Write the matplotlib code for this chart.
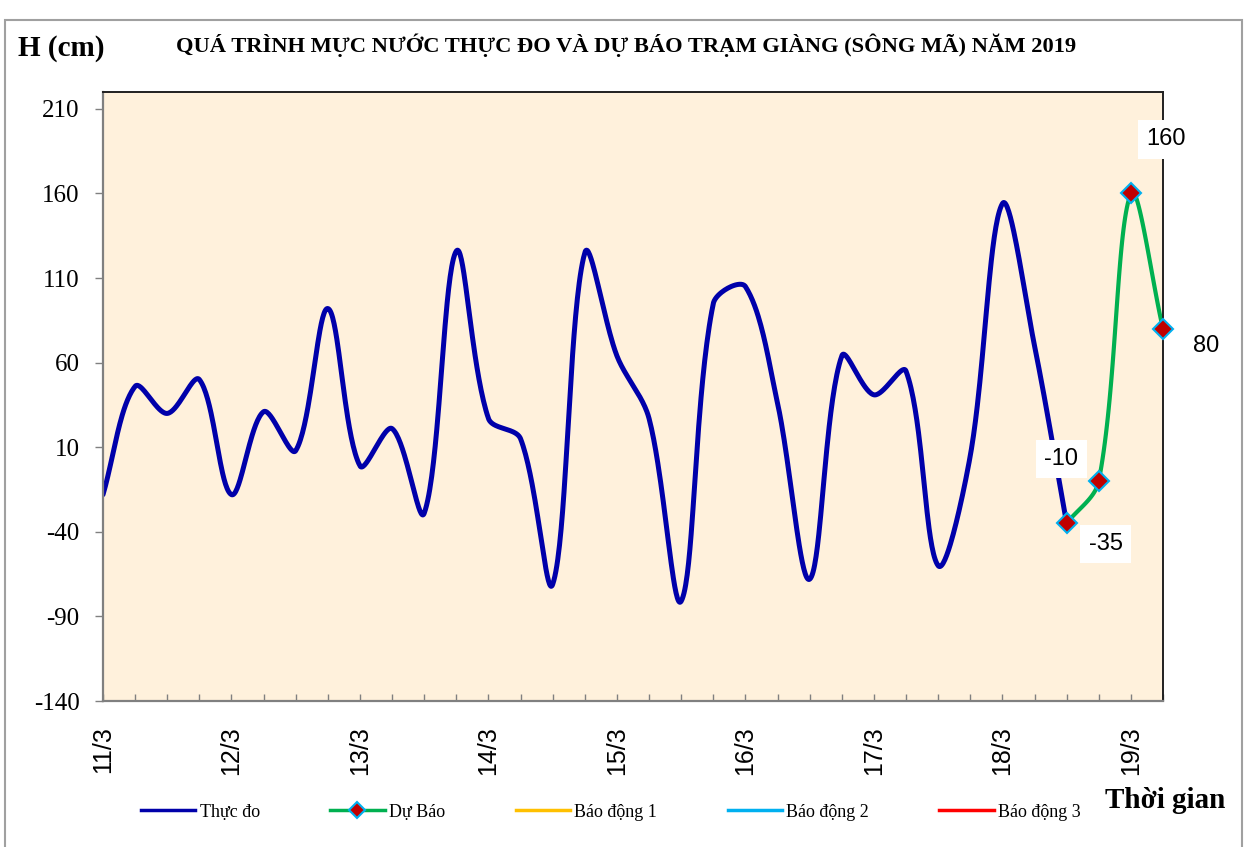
import numpy as np
import matplotlib
matplotlib.use('Agg')
import matplotlib.pyplot as plt
from matplotlib.lines import Line2D
from matplotlib.patches import Rectangle

# water level data, 6-hour steps starting 11/3 00h
days = ['11/3', '12/3', '13/3', '14/3', '15/3', '16/3', '17/3', '18/3', '19/3']
observed = [-18, 46, 30, 50, -18, 31, 8, 92, -1, 21, -29, 126, 27, 15, -71, 125,
            64, 27, -81, 95, 105, 36, -68, 64, 41, 55, -60, 5, 154, 70, -35]
forecast = [-35, -10, 160, 80]
forecast_start = 30
n_steps = 34

W, H = 1251, 847


def fx(px):
    return px / W


def fy(py):
    return 1 - py / H


def smooth(x, y, sx=32.1, sy=1.686, n=40):
    # Excel-like smoothed line: bezier with control points scaled by segment length (pixel space)
    P = np.column_stack([np.asarray(x, float) * sx, np.asarray(y, float) * sy])
    P = np.vstack([P[0], P, P[-1]])
    out = []
    t = np.linspace(0, 1, n)[:, None]
    for i in range(1, len(P) - 2):
        p0, p3 = P[i], P[i + 1]
        d0 = P[i + 1] - P[i - 1]
        d1 = P[i + 2] - P[i]
        l_prev = np.hypot(*(P[i] - P[i - 1]))
        l_cur = np.hypot(*(P[i + 1] - P[i]))
        l_next = np.hypot(*(P[i + 2] - P[i + 1]))
        a = l_cur / (l_prev + l_cur) if l_prev + l_cur > 0 else 0.5
        b = l_cur / (l_cur + l_next) if l_cur + l_next > 0 else 0.5
        p1 = p0 + d0 * a / 3
        p2 = p3 - d1 * b / 3
        seg = (1 - t) ** 3 * p0 + 3 * (1 - t) ** 2 * t * p1 + 3 * (1 - t) * t ** 2 * p2 + t ** 3 * p3
        out.append(seg)
    out = np.vstack(out)
    return out[:, 0] / sx, out[:, 1] / sy


fig = plt.figure(figsize=(W / 100, H / 100), dpi=100)
ax = fig.add_axes([fx(103), fy(701), fx(1163) - fx(103), fy(92) - fy(701)])
ax.set_facecolor('#FFF1DC')

xo = np.arange(len(observed))
sx, sy = smooth(xo, observed)
ax.plot(sx, sy, color='#0000AA', lw=3.6, solid_capstyle='round')

xf = np.arange(forecast_start, forecast_start + len(forecast))
sx, sy = smooth(xf, forecast)
ax.plot(sx, sy, color='#00B050', lw=3.0, solid_capstyle='round')
ax.plot(xf, forecast, ls='none', marker='D', ms=10, mfc='#C00000', mec='#00B0F0', mew=1.5, clip_on=False, zorder=5)

offsets = [(28, -15), (-27, 16), (25, 39), (31, -12)]
for xi, v, off in zip(xf, forecast, offsets):
    ax.annotate(str(v), (xi, v), xytext=off, textcoords='offset points', ha='center', va='center',
                fontsize=17, family='Liberation Sans', annotation_clip=False,
                bbox=dict(boxstyle='square,pad=0.35', fc='white', ec='none'))

ax.set_xlim(0, n_steps - 1)
ax.set_ylim(-140, 220)
ax.set_yticks(np.arange(-140, 211, 50))
ax.set_yticklabels([str(v) for v in range(-140, 211, 50)], family='Liberation Serif', fontsize=18)
ax.tick_params(axis='y', direction='out', length=6, width=1, color='#808080', pad=11)

ax.set_xticks(np.arange(n_steps), minor=True)
ax.set_xticks(np.arange(0, n_steps, 4))
ax.set_xticklabels(days, rotation=90, family='Liberation Sans', fontsize=18, va='top')
ax.tick_params(axis='x', which='both', direction='in', length=5, width=1, color='#808080', pad=18)

for s in ['left', 'bottom']:
    ax.spines[s].set_color('#808080')
    ax.spines[s].set_linewidth(1.6)
for s in ['top', 'right']:
    ax.spines[s].set_color('#202020')
    ax.spines[s].set_linewidth(1.4)

fig.text(fx(18), fy(48), 'H (cm)', family='Liberation Serif', weight='bold', fontsize=21, va='center')
fig.text(fx(626), fy(45), 'QUÁ TRÌNH MỰC NƯỚC THỰC ĐO VÀ DỰ BÁO TRẠM GIÀNG (SÔNG MÃ) NĂM 2019',
         family='Liberation Serif', weight='bold', fontsize=16.2, ha='center', va='center')
fig.text(fx(1105), fy(800), 'Thời gian', family='Liberation Serif', weight='bold', fontsize=21, va='center')

handles = [
    Line2D([], [], color='#0000AA', lw=2.5),
    Line2D([], [], color='#00B050', lw=2.5, marker='D', ms=8, mfc='#C00000', mec='#00B0F0', mew=1.5),
    Line2D([], [], color='#FFC000', lw=2.5),
    Line2D([], [], color='#00B0F0', lw=2.5),
    Line2D([], [], color='#FF0000', lw=2.5),
]
labels = ['Thực đo', 'Dự Báo', 'Báo động 1', 'Báo động 2', 'Báo động 3']
fig.legend(handles, labels, loc='center', bbox_to_anchor=(fx(611), fy(812)), ncol=5, frameon=False,
           prop={'family': 'Liberation Serif', 'size': 13}, handlelength=3.0, handletextpad=0.25,
           columnspacing=3.9)

fig.patches.append(Rectangle((fx(5), fy(H + 5)), fx(1242) - fx(5), fy(20) - fy(H + 5),
                             transform=fig.transFigure, fill=False, ec='#A0A0A0', lw=1.5))

fig.savefig('out.png', dpi=100)
